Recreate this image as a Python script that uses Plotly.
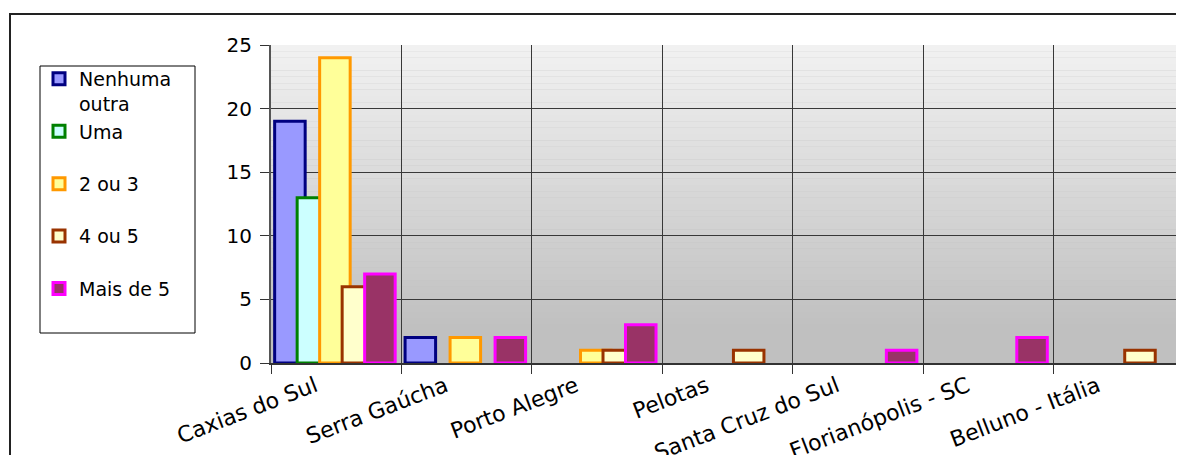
import plotly.graph_objects as go

categories = ["Caxias do Sul", "Serra Gaúcha", "Porto Alegre", "Pelotas",
              "Santa Cruz do Sul", "Florianópolis - SC", "Belluno - Itália"]
series_names = ["Nenhuma<br>outra", "Uma<br>\u00a0", "2 ou 3<br>\u00a0", "4 ou 5<br>\u00a0", "Mais de 5<br>\u00a0"]
nenhuma = [19, 2, 0, 0, 0, 0, 0]
uma = [13, 0, 0, 0, 0, 0, 0]
dois_tres = [24, 2, 1, 0, 0, 0, 0]
quatro_cinco = [6, 0, 1, 1, 0, 0, 1]
mais_de_5 = [7, 2, 3, 0, 1, 2, 0]
y_ticks = [0, 5, 10, 15, 20, 25]

fills = ["#9999ff", "#ccffff", "#ffff99", "#ffffcc", "#993366"]
lines = ["#000080", "#008000", "#ff9900", "#993300", "#ff00ff"]
values = [nenhuma, uma, dois_tres, quatro_cinco, mais_de_5]

FONT = "DejaVu Sans"
OFF = 8  # page body margin
W, H = 1184 - OFF, 455 - OFF
ML, MT, MB, MR = 271 - OFF, 45 - OFF, 92, 0
pw = W - ML - MR
ph = H - MT - MB


def px_x(page_x):
    return (page_x - OFF - ML) / pw


def px_y(page_y):
    return (MT + ph - (page_y - OFF)) / ph


fig = go.Figure()
bar_w = 0.234
step = 0.1725
start = -0.472
for i, (name, vals) in enumerate(zip(series_names, values)):
    fig.add_trace(go.Bar(
        x=categories,
        y=[v if v != 0 else None for v in vals],
        name=name,
        legendgroup=str(i),
        width=bar_w,
        offset=start + i * step,
        marker=dict(color=fills[i], line=dict(color=lines[i], width=3)),
    ))

# gradient background for plot area
shapes = []
n = 44
top_c, bot_c = 0xf2, 0xc0
y_hi, y_lo = 25, 3
for k in range(n):
    y0 = y_hi - (y_hi - y_lo) * k / n
    y1 = y_hi - (y_hi - y_lo) * (k + 1) / n
    c = round(top_c + (bot_c - top_c) * (k + 0.5) / n)
    shapes.append(dict(type="rect", xref="paper", yref="y", x0=0, x1=1, y0=y1, y1=y0,
                       fillcolor=f"rgb({c},{c},{c})", line=dict(width=0), layer="below"))

# outer chart border
shapes.append(dict(type="rect", xref="paper", yref="paper",
                   x0=px_x(10), x1=1.05, y0=-0.5, y1=px_y(14),
                   line=dict(color="#222222", width=2), fillcolor="rgba(0,0,0,0)", layer="above"))
# legend frame
shapes.append(dict(type="rect", xref="paper", yref="paper",
                   x0=px_x(40), x1=px_x(195), y0=px_y(333), y1=px_y(66),
                   line=dict(color="black", width=1), fillcolor="white", layer="above"))

fig.update_layout(
    width=W, height=H,
    margin=dict(l=ML, r=MR, t=MT, b=MB, autoexpand=False),
    paper_bgcolor="white",
    plot_bgcolor="#c0c0c0",
    barmode="overlay",
    shapes=shapes,
    font=dict(family=FONT, color="black"),
    legend=dict(
        xref="container", yref="container",
        x=(39 - OFF) / W, y=1 - (60 - OFF) / H, xanchor="left", yanchor="top",
        bgcolor="rgba(0,0,0,0)", borderwidth=0,
        font=dict(family=FONT, size=19, color="black"),
        valign="top",
        entrywidth=130,
        tracegroupgap=0,
        maxheight=400,
        itemclick=False,
    ),
    xaxis=dict(
        type="category",
        range=[-0.5, 6.5],
        tickson="boundaries",
        ticks="outside", ticklen=9, tickcolor="#333333",
        showgrid=True, gridcolor="#383838", gridwidth=1,
        tickangle=-21,
        tickfont=dict(family=FONT, size=22, color="black"),
        ticklabelshift=-21,
        showline=True, linecolor="#333333", linewidth=2,
        automargin=False,
    ),
    yaxis=dict(
        range=[0, 25],
        tickvals=y_ticks,
        ticks="outside", ticklen=9, tickcolor="#333333",
        showgrid=True, gridcolor="#383838", gridwidth=1,
        zeroline=False,
        showline=True, linecolor="#555555", linewidth=2,
        tickfont=dict(family=FONT, size=20, color="black"),
        ticklabelstandoff=4,
        automargin=False,
    ),
    showlegend=True,
)

fig.write_html("out.html")
